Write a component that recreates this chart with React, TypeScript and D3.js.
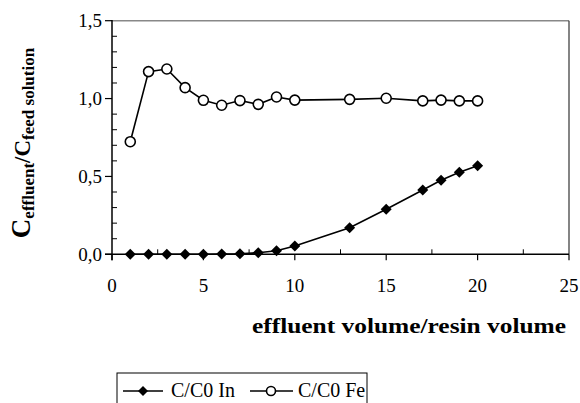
import React from "react";
import * as d3 from "d3";

const volumes = [1, 2, 3, 4, 5, 6, 7, 8, 9, 10, 13, 15, 17, 18, 19, 20];
const inValues = [0, 0, 0, 0, 0, 0.002, 0.003, 0.01, 0.023, 0.053, 0.171, 0.289, 0.413, 0.475, 0.527, 0.569];
const feValues = [0.723, 1.173, 1.19, 1.07, 0.989, 0.957, 0.987, 0.963, 1.01, 0.99, 0.995, 1.002, 0.985, 0.99, 0.985, 0.985];
const xTicks = [0, 5, 10, 15, 20, 25];
const yTicks = [0, 0.5, 1.0, 1.5];
const seriesNames = ["C/C0 In", "C/C0 Fe"];

const FONT = "Liberation Serif, Times New Roman, serif";

export default function App() {
  const x = d3.scaleLinear().domain([0, 25]).range([112, 569]);
  const y = d3.scaleLinear().domain([0, 1.5]).range([254.3, 20.7]);
  const line = d3
    .line<[number, number]>()
    .x((d) => x(d[0]))
    .y((d) => y(d[1]));
  const inPts: [number, number][] = volumes.map((v, i) => [v, inValues[i]]);
  const fePts: [number, number][] = volumes.map((v, i) => [v, feValues[i]]);
  const minorY = d3.range(1, 15).filter((i) => i % 5 !== 0).map((i) => i / 10);
  const minorX = [2.5, 7.5, 12.5, 17.5, 22.5];
  const diamond = (cx: number, cy: number, r: number) =>
    `M${cx},${cy - r}L${cx + r},${cy}L${cx},${cy + r}L${cx - r},${cy}Z`;
  const fmt = (v: number) => v.toFixed(1).replace(".", ",");

  return (
    <svg
      width={580}
      height={403}
      style={{ position: "absolute", left: 0, top: 0, background: "#fff", fontFamily: FONT }}
    >
      <rect width={580} height={403} fill="#fff" />
      {/* frame */}
      <line x1={x(0)} x2={x(25)} y1={y(1.5)} y2={y(1.5)} stroke="#888" strokeWidth={1.5} />
      <line x1={x(25)} x2={x(25)} y1={y(1.5)} y2={y(0)} stroke="#333" strokeWidth={1.2} />
      {/* y axis */}
      <line x1={x(0)} x2={x(0)} y1={y(1.5) - 0.7} y2={y(0) + 6} stroke="#000" strokeWidth={1.5} />
      {yTicks.map((t) => (
        <g key={"yt" + t}>
          <line x1={x(0) - 7} x2={x(0)} y1={y(t)} y2={y(t)} stroke="#000" strokeWidth={1.2} />
          <text x={x(0) - 10} y={y(t) + 6.5} fontSize={19} textAnchor="end">
            {fmt(t)}
          </text>
        </g>
      ))}
      {minorY.map((t) => (
        <line key={"ym" + t} x1={x(0)} x2={x(0) + 5} y1={y(t)} y2={y(t)} stroke="#000" strokeWidth={1} />
      ))}
      {/* x axis */}
      <line x1={x(0) - 7} x2={x(25)} y1={y(0)} y2={y(0)} stroke="#000" strokeWidth={1.5} />
      {xTicks.map((t) => (
        <g key={"xt" + t}>
          <line x1={x(t)} x2={x(t)} y1={y(0)} y2={y(0) + 6} stroke="#000" strokeWidth={1.2} />
          <text x={x(t)} y={292} fontSize={19} textAnchor="middle">
            {t}
          </text>
        </g>
      ))}
      {minorX.map((t) => (
        <line key={"xm" + t} x1={x(t)} x2={x(t)} y1={y(0)} y2={y(0) - 5} stroke="#000" strokeWidth={1} />
      ))}
      {/* series */}
      <path d={line(inPts) || ""} fill="none" stroke="#000" strokeWidth={1.6} />
      <path d={line(fePts) || ""} fill="none" stroke="#000" strokeWidth={1.6} />
      {inPts.map((p, i) => (
        <path key={"d" + i} d={diamond(x(p[0]), y(p[1]), 5.5)} fill="#000" />
      ))}
      {fePts.map((p, i) => (
        <circle key={"c" + i} cx={x(p[0])} cy={y(p[1])} r={5} fill="#fff" stroke="#000" strokeWidth={1.6} />
      ))}
      {/* axis titles */}
      <text x={252} y={333} fontSize={22} fontWeight="bold" textLength={314} lengthAdjust="spacingAndGlyphs">
        effluent volume/resin volume
      </text>
      <text transform="translate(30,143) rotate(-90)" textAnchor="middle" fontWeight="bold">
        <tspan fontSize={27}>C</tspan>
        <tspan fontSize={17} dy={4}>effluent</tspan>
        <tspan fontSize={23} dy={-4}>/C</tspan>
        <tspan fontSize={17} dy={4}>feed solution</tspan>
      </text>
      {/* legend */}
      <rect x={117} y={373} width={250} height={40} fill="#fff" stroke="#000" strokeWidth={1} />
      <line x1={123} x2={163} y1={391} y2={391} stroke="#000" strokeWidth={1.6} />
      <path d={diamond(143, 391, 5)} fill="#000" />
      <text x={171} y={397} fontSize={20}>
        {seriesNames[0]}
      </text>
      <line x1={250} x2={293} y1={391} y2={391} stroke="#000" strokeWidth={1.6} />
      <circle cx={271} cy={391} r={4.5} fill="#fff" stroke="#000" strokeWidth={1.6} />
      <text x={298} y={397} fontSize={20}>
        {seriesNames[1]}
      </text>
    </svg>
  );
}
